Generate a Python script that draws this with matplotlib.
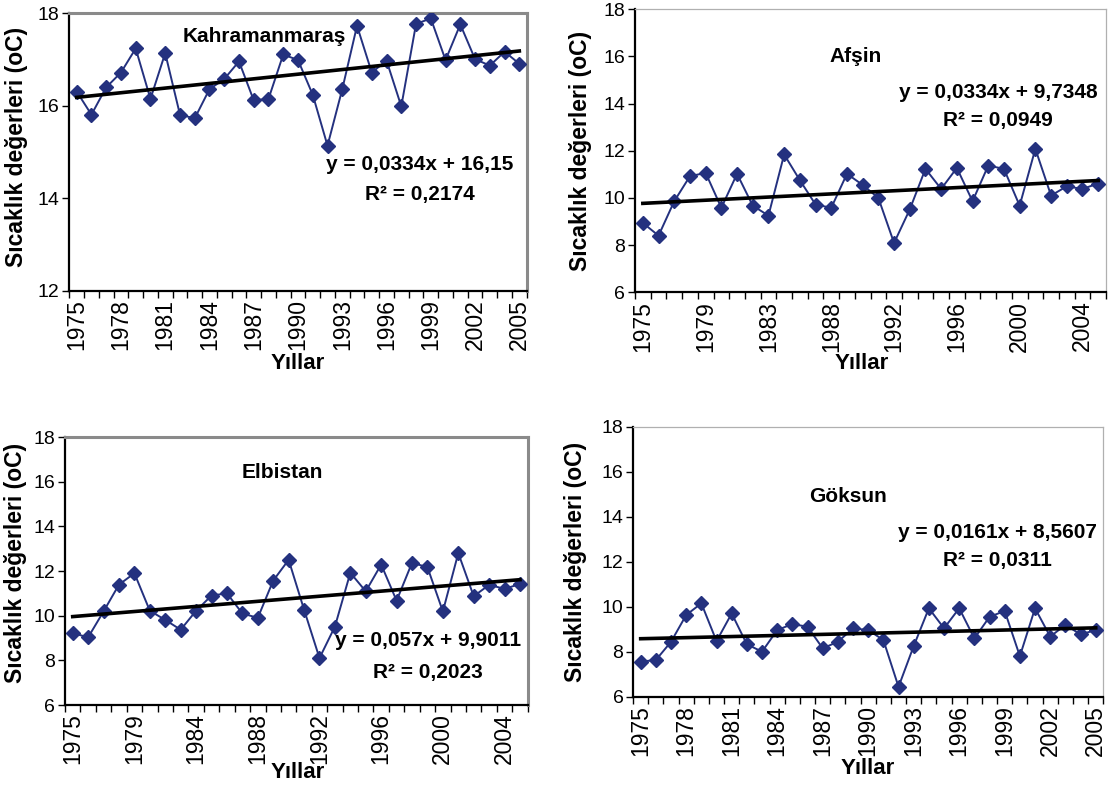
import numpy as np
import matplotlib.pyplot as plt

plt.rcParams['font.family'] = ['Liberation Sans', 'DejaVu Sans']

# annual mean temperatures (oC)
kahramanmaras = [16.31, 15.81, 16.40, 16.72, 17.24, 16.15, 17.14, 15.81, 15.73, 16.36,
                 16.58, 16.96, 16.12, 16.15, 17.11, 16.99, 16.24, 15.14, 16.36, 17.73,
                 16.72, 16.98, 15.99, 17.77, 17.89, 16.99, 17.76, 17.01, 16.87, 17.17,
                 16.91]
afsin = [8.94, 8.40, 9.86, 10.92, 11.06, 9.58, 11.02, 9.67, 9.25, 11.84,
         10.75, 9.72, 9.58, 11.02, 10.55, 10.00, 8.09, 9.51, 11.23, 10.38,
         11.27, 9.86, 11.37, 11.23, 9.67, 12.08, 10.10, 10.49, 10.38, 10.61]
elbistan = [9.22, 9.03, 10.19, 11.39, 11.90, 10.22, 9.81, 9.37, 10.22, 10.90,
            11.00, 10.10, 9.90, 11.57, 12.50, 10.27, 8.10, 9.51, 11.92, 11.09,
            12.29, 10.67, 12.37, 12.17, 10.19, 12.80, 10.87, 11.38, 11.20, 11.42]
goksun = [7.56, 7.63, 8.44, 9.63, 10.15, 8.47, 9.70, 8.33, 8.00, 8.96,
          9.23, 9.11, 8.15, 8.44, 9.04, 8.96, 8.52, 6.44, 8.25, 9.93,
          9.04, 9.93, 8.59, 9.55, 9.81, 7.80, 9.93, 8.67, 9.19, 8.77,
          8.96]

# x axis category labels as printed
kah_labels = ['1975', '1978', '1981', '1984', '1987', '1990', '1993', '1996', '1999', '2002', '2005']
afs_labels = ['1975', '1979', '1983', '1988', '1992', '1996', '2000', '2004']
elb_labels = ['1975', '1979', '1984', '1988', '1992', '1996', '2000', '2004']
gok_labels = ['1975', '1978', '1981', '1984', '1987', '1990', '1993', '1996', '1999', '2002', '2005']

# linear trends (y = a*x + b, x = 1..n) and R2 as given on the chart
kah_trend = (0.0334, 16.15, '0,0334', '16,15', '0,2174')
afs_trend = (0.0334, 9.7348, '0,0334', '9,7348', '0,0949')
elb_trend = (0.057, 9.9011, '0,057', '9,9011', '0,2023')
gok_trend = (0.0161, 8.5607, '0,0161', '8,5607', '0,0311')

W, H = 1108, 785
LINE = '#24317f'


def panel(fig, box, values, labels, step, ylim, name, trend, name_pos, eq_pos, r2_pos,
          ylab_pos, xlab_pos, heavy_frame):
    left, top, right, bottom = box
    ax = fig.add_axes([left / W, 1 - bottom / H, (right - left) / W, (bottom - top) / H])
    n = len(values)
    x = np.arange(n)
    ax.plot(x, values, color=LINE, lw=1.4, marker='D', ms=7.5, mfc=LINE, mec=LINE, zorder=3)
    a, b, a_txt, b_txt, r2_txt = trend
    xt = np.array([0, n - 1])
    ax.plot(xt, a * (xt + 1) + b, color='black', lw=2.6, zorder=4)

    ax.set_xlim(-0.5, n - 0.5)
    ax.set_ylim(*ylim)
    yt = np.arange(ylim[0], ylim[1] + 0.1, 2)
    ax.set_yticks(yt)
    ax.set_yticklabels([str(int(v)) for v in yt])
    ax.set_xticks(np.arange(0, n, step))
    ax.set_xticklabels(labels, rotation=90)
    ax.set_xticks(np.arange(n + 1) - 0.5, minor=True)
    ax.tick_params(axis='x', which='major', length=0, pad=6, labelsize=16.5)
    ax.tick_params(axis='x', which='minor', length=5, width=1, direction='out')
    ax.tick_params(axis='y', length=5, width=1, direction='out', pad=2, labelsize=14)

    for s in ('left', 'bottom'):
        ax.spines[s].set_color('black')
        ax.spines[s].set_linewidth(1.6)
    for s in ('top', 'right'):
        if heavy_frame:
            ax.spines[s].set_color('#8a8a8a')
            ax.spines[s].set_linewidth(2.2)
        else:
            ax.spines[s].set_color('#b0b0b0')
            ax.spines[s].set_linewidth(0.9)

    ax.text(name_pos[0], name_pos[1], name, transform=ax.transAxes, ha='center', va='center',
            fontsize=15, fontweight='bold')
    ax.text(eq_pos[0], eq_pos[1], 'y = %sx + %s' % (a_txt, b_txt), transform=ax.transAxes,
            ha='center', va='center', fontsize=15, fontweight='bold')
    ax.text(r2_pos[0], r2_pos[1], 'R\u00b2 = %s' % r2_txt, transform=ax.transAxes,
            ha='center', va='center', fontsize=15, fontweight='bold')

    ax.set_ylabel('Sıcaklık değerleri (oC)', fontsize=16.5, fontweight='bold')
    ax.yaxis.set_label_coords(*ylab_pos)
    ax.set_xlabel('Yıllar', fontsize=16, fontweight='bold')
    ax.xaxis.set_label_coords(*xlab_pos)
    return ax


fig = plt.figure(figsize=(W / 100, H / 100), dpi=100)

panel(fig, (69.3, 13.3, 526.7, 291), kahramanmaras, kah_labels, 3, (12, 18), 'Kahramanmaraş',
      kah_trend, (0.426, 0.915), (0.767, 0.454), (0.767, 0.346), (-0.090, 0.52), (0.5, -0.225), True)
panel(fig, (635, 9.1, 1106, 292.3), afsin, afs_labels, 4, (6, 18), 'Afşin',
      afs_trend, (0.469, 0.834), (0.771, 0.707), (0.771, 0.608), (-0.091, 0.5), (0.482, -0.215), False)
panel(fig, (65, 437, 527.7, 705), elbistan, elb_labels, 4, (6, 18), 'Elbistan',
      elb_trend, (0.469, 0.869), (0.785, 0.239), (0.785, 0.123), (-0.082, 0.53), (0.503, -0.213), True)
panel(fig, (633.1, 426.7, 1103.3, 696.7), goksun, gok_labels, 3, (6, 18), 'Göksun',
      gok_trend, (0.457, 0.740), (0.774, 0.610), (0.774, 0.506), (-0.098, 0.5), (0.5, -0.227), False)

fig.savefig('out.png', dpi=100)
